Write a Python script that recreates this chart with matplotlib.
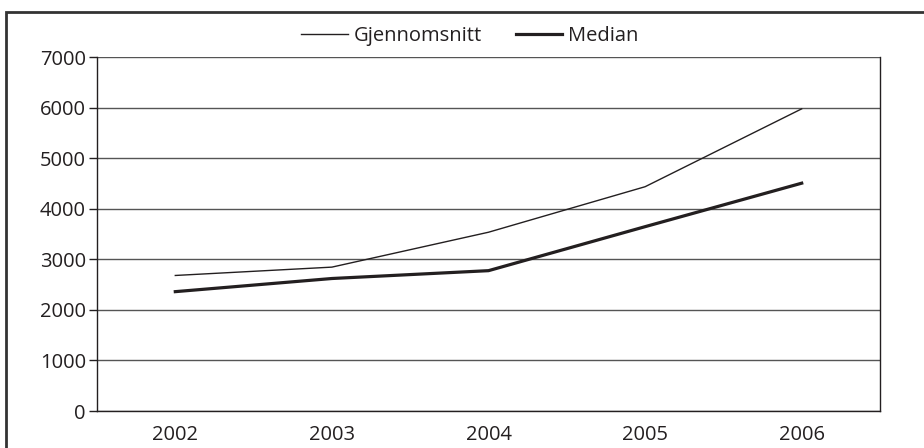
import matplotlib.pyplot as plt
from matplotlib.patches import Rectangle

# data
years = ['2002', '2003', '2004', '2005', '2006']
gjennomsnitt = [2680, 2845, 3535, 4435, 5975]
median = [2360, 2620, 2775, 3645, 4505]
yticks = [0, 1000, 2000, 3000, 4000, 5000, 6000, 7000]

plt.rcParams['font.family'] = ['Open Sans', 'DejaVu Sans']
ink = '#231f20'
fs = 14.5

W, H = 924, 448
fig = plt.figure(figsize=(W / 100, H / 100), dpi=100)
ax = fig.add_axes([97 / W, 1 - 411 / H, 783 / W, 354 / H])

x = list(range(len(years)))
ax.plot(x, gjennomsnitt, color=ink, lw=1.0, label='Gjennomsnitt')
ax.plot(x, median, color=ink, lw=2.3, label='Median')

ax.set_xlim(-0.5, len(years) - 0.5)
ax.set_ylim(0, 7000)
ax.set_yticks(yticks)
ax.set_xticks(x)
ax.set_xticklabels(years)
ax.tick_params(axis='x', length=0, pad=10, labelsize=fs, colors=ink)
ax.tick_params(axis='y', length=6, width=1, pad=2, labelsize=fs, colors=ink)
ax.grid(axis='y', color='#555555', lw=1)
ax.set_axisbelow(True)
for side in ['left', 'bottom', 'right']:
    ax.spines[side].set_color(ink)
    ax.spines[side].set_linewidth(1)
ax.spines['top'].set_visible(False)

ax.legend(loc='center', bbox_to_anchor=(470 / W, 1 - 36 / H),
          bbox_transform=fig.transFigure, ncol=2, frameon=False,
          fontsize=fs, handlelength=2.3, handletextpad=0.3,
          columnspacing=1.7, labelcolor=ink)

# outer frame, cut off at right and bottom like the reference
fig.patches.append(Rectangle((6 / W, -0.1), 1.2, 1 - 12 / H + 0.1,
                             transform=fig.transFigure, fill=False,
                             ec='#333333', lw=2))

fig.savefig('out.png', dpi=100)
